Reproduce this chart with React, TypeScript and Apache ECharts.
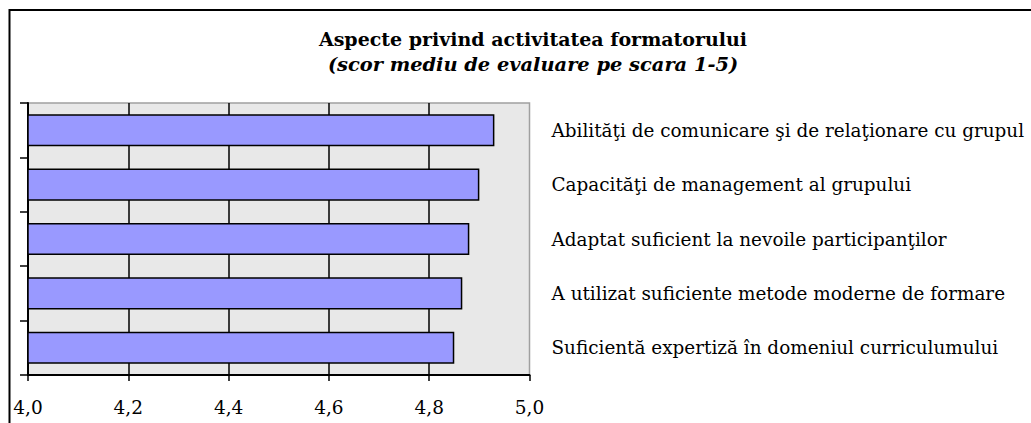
import React, { useEffect, useRef } from "react";
import * as echarts from "echarts";

const categories = [
  "Abilităţi de comunicare şi de relaţionare cu grupul",
  "Capacităţi de management al grupului",
  "Adaptat suficient la nevoile participanţilor",
  "A utilizat suficiente metode moderne de formare",
  "Suficientă expertiză în domeniul curriculumului",
];
const scores = [4.93, 4.9, 4.88, 4.866, 4.85];
const titleText = "Aspecte privind activitatea formatorului";
const subtitleText = "(scor mediu de evaluare pe scara 1-5)";

const FONT = "DejaVu Serif";

export default function App() {
  const ref = useRef<HTMLDivElement>(null);
  useEffect(() => {
    document.body.style.margin = "0";
    if (!ref.current) return;
    const chart = echarts.init(ref.current, null, { renderer: "svg" });
    chart.setOption({
      animation: false,
      backgroundColor: "#ffffff",
      textStyle: { fontFamily: FONT },
      title: [
        {
          text: titleText,
          left: 528,
          top: 24,
          textAlign: "center",
          textStyle: { fontFamily: FONT, fontSize: 19, fontWeight: "bold", color: "#000" },
        },
        {
          text: subtitleText,
          left: 528,
          top: 50,
          textAlign: "center",
          textStyle: { fontFamily: FONT, fontSize: 19.4, fontWeight: "bold", fontStyle: "italic", color: "#000" },
        },
      ],
      graphic: [
        {
          type: "rect",
          shape: { x: 9.5, y: 10, width: 1200, height: 600 },
          style: { fill: "none", stroke: "#000", lineWidth: 2 },
          silent: true,
          z: 100,
        },
      ],
      grid: {
        left: 28,
        right: 501.5,
        top: 103,
        bottom: 48,
        outerBoundsMode: "none",
        containLabel: false,
        show: true,
        backgroundColor: "#e8e8e8",
        borderColor: "#a0a0a0",
        borderWidth: 1.5,
      },
      xAxis: {
        type: "value",
        min: 4,
        max: 5,
        interval: 0.2,
        axisLine: { show: true, lineStyle: { color: "#000", width: 2 } },
        axisTick: { show: true, length: 6, lineStyle: { color: "#000", width: 1.5 } },
        splitLine: { show: true, showMinLine: false, showMaxLine: false, lineStyle: { color: "#000", width: 1.5 } },
        axisLabel: {
          margin: 23,
          fontFamily: FONT,
          fontSize: 18.5,
          color: "#000",
          formatter: (v: number) => v.toFixed(1).replace(".", ","),
        },
      },
      yAxis: [
        {
          type: "category",
          data: categories,
          inverse: true,
          position: "left",
          axisLine: { show: true, lineStyle: { color: "#000", width: 2 } },
          axisTick: { show: true, length: 8, lineStyle: { color: "#000", width: 1.5 } },
          axisLabel: { show: false },
        },
        {
          type: "category",
          data: categories,
          inverse: true,
          position: "right",
          axisLine: { show: false },
          axisTick: { show: false },
          axisLabel: {
            show: true,
            margin: 22,
            fontFamily: FONT,
            fontSize: 18.4,
            color: "#000",
            padding: [20, 0, 0, 0],
          },
        },
      ],
      series: [
        {
          type: "bar",
          data: scores,
          yAxisIndex: 0,
          barCategoryGap: "41%",
          itemStyle: { color: "#9999ff", borderColor: "#000", borderWidth: 1.5 },
        },
      ],
    });
    return () => chart.dispose();
  }, []);
  return <div ref={ref} style={{ width: 1031, height: 423 }} />;
}
